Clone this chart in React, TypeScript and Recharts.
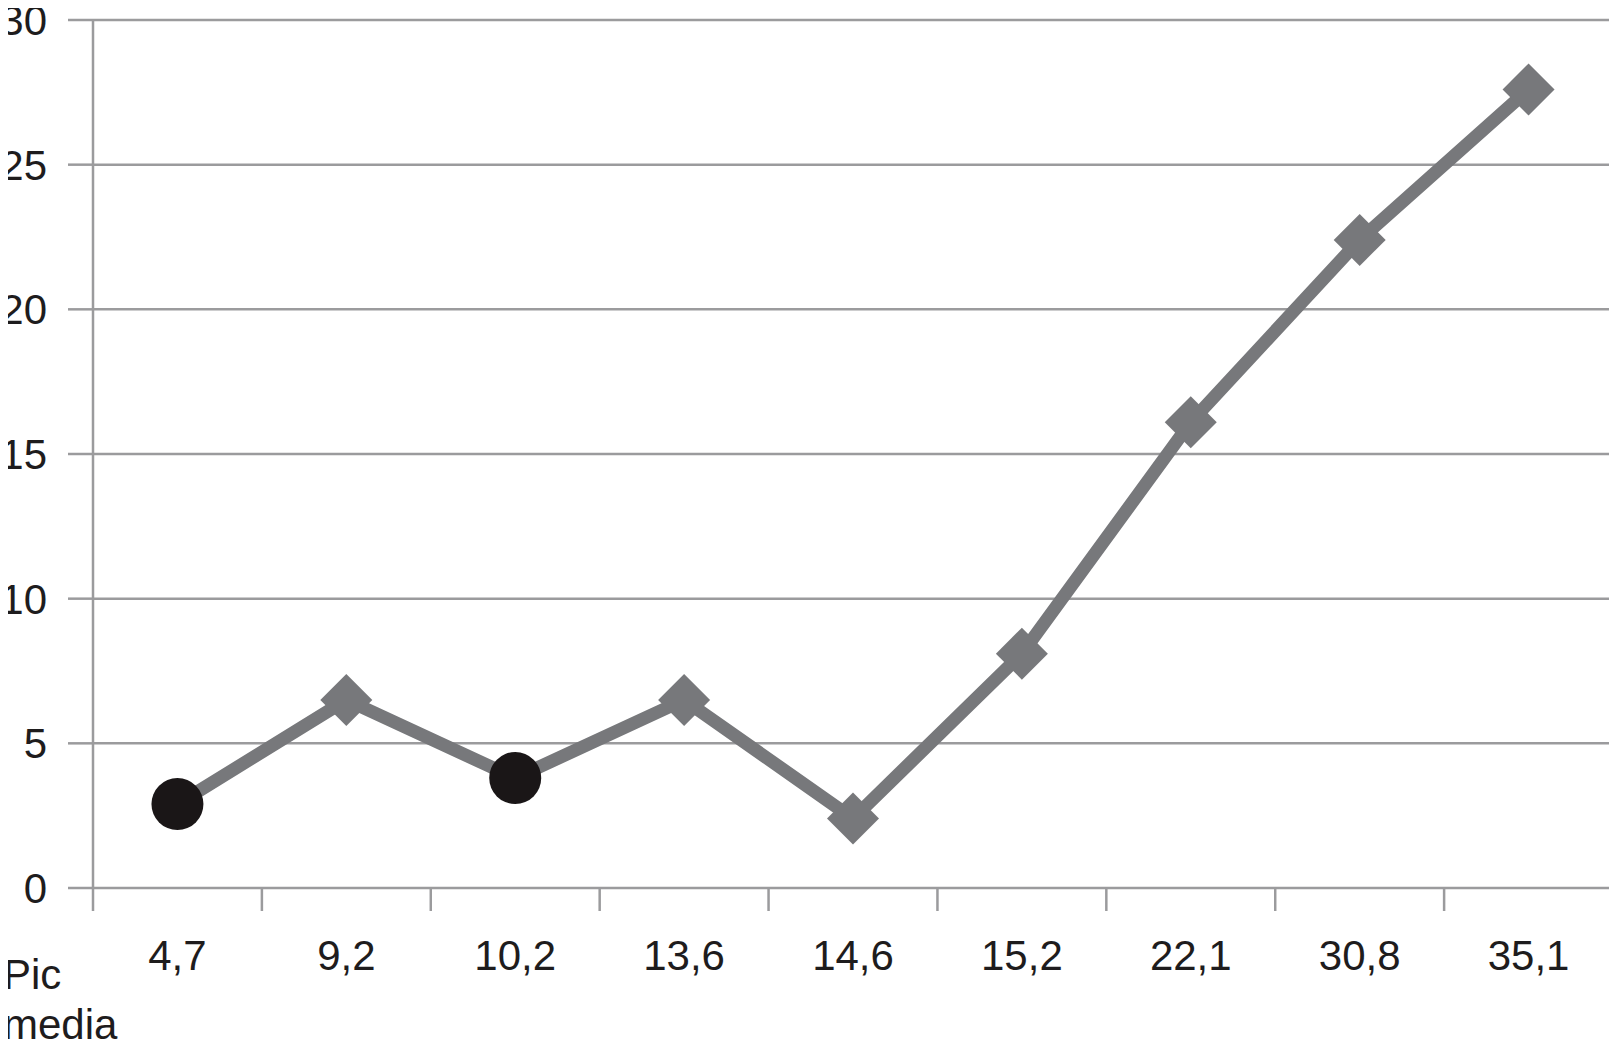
import React from "react";
import { LineChart, Line, XAxis, YAxis, CartesianGrid } from "recharts";

const categories = ["4,7", "9,2", "10,2", "13,6", "14,6", "15,2", "22,1", "30,8", "35,1"];
const values = [2.9, 6.5, 3.8, 6.5, 2.4, 8.1, 16.1, 22.4, 27.6];
const markers = ["circle", "diamond", "circle", "diamond", "diamond", "diamond", "diamond", "diamond", "diamond"];
const yTicks = [0, 5, 10, 15, 20, 25, 30];
const axisTitleLines = ["Pic", "media"];

const data = categories.map((label, i) => ({
  pos: i + 0.5,
  label,
  value: values[i],
  marker: markers[i],
}));

const xTicks: number[] = [];
for (let i = 0; i <= categories.length; i++) {
  xTicks.push(i);
  if (i < categories.length) xTicks.push(i + 0.5);
}

const GRID = "#9b9b9d";
const LINE = "#77787b";
const TEXT = "#1e1c1d";
const FONT = "'Liberation Sans', Arial, Helvetica, sans-serif";
const FS = 42;

const XTick = (props: any) => {
  const { x, y, payload } = props;
  const v = payload.value as number;
  if (Number.isInteger(v)) {
    return <line x1={x} x2={x} y1={y} y2={y + 23} stroke={GRID} strokeWidth={2.5} />;
  }
  const label = categories[Math.floor(v)];
  return (
    <text x={x} y={y + 67} dy="0.36em" textAnchor="middle" fontSize={FS} fill={TEXT} fontFamily={FONT}>
      {label}
    </text>
  );
};

const Dot = (props: any) => {
  const { cx, cy, payload, index } = props;
  if (cx == null || cy == null) return null;
  if (payload.marker === "circle") {
    return <circle key={index} cx={cx} cy={cy} r={26} fill="#1a1617" />;
  }
  const h = 26;
  return (
    <polygon
      key={index}
      points={`${cx},${cy - h} ${cx + h},${cy} ${cx},${cy + h} ${cx - h},${cy}`}
      fill={LINE}
    />
  );
};

export default function App() {
  return (
    <div style={{ position: "relative", margin: "-8px 0 0 -8px", width: 1617, height: 1061, background: "#fff" }}>
      <LineChart width={1617} height={1061} data={data} margin={{ top: 20, right: 4, bottom: 0, left: 0 }}>
        <CartesianGrid vertical={false} stroke={GRID} strokeWidth={2.5} />
        <XAxis
          type="number"
          dataKey="pos"
          domain={[0, categories.length]}
          ticks={xTicks}
          interval={0}
          height={173}
          axisLine={false}
          tickLine={false}
          tickSize={0}
          tickMargin={0}
          tick={<XTick />}
        />
        <YAxis
          type="number"
          domain={[0, 30]}
          ticks={yTicks}
          interval={0}
          width={93}
          axisLine={{ stroke: GRID, strokeWidth: 2.5 }}
          tickLine={{ stroke: GRID, strokeWidth: 2.5 }}
          tickSize={25}
          tickMargin={21}
          tick={{ fontSize: FS, fill: TEXT, fontFamily: FONT }}
        />
        <Line
          type="linear"
          dataKey="value"
          stroke={LINE}
          strokeWidth={13}
          dot={<Dot />}
          activeDot={false}
          isAnimationActive={false}
        />
      </LineChart>
      <div
        style={{
          position: "absolute",
          left: 3,
          top: 950,
          fontFamily: FONT,
          fontSize: FS,
          lineHeight: "50px",
          color: TEXT,
        }}
      >
        {axisTitleLines.map((t) => (
          <div key={t}>{t}</div>
        ))}
      </div>
    </div>
  );
}
